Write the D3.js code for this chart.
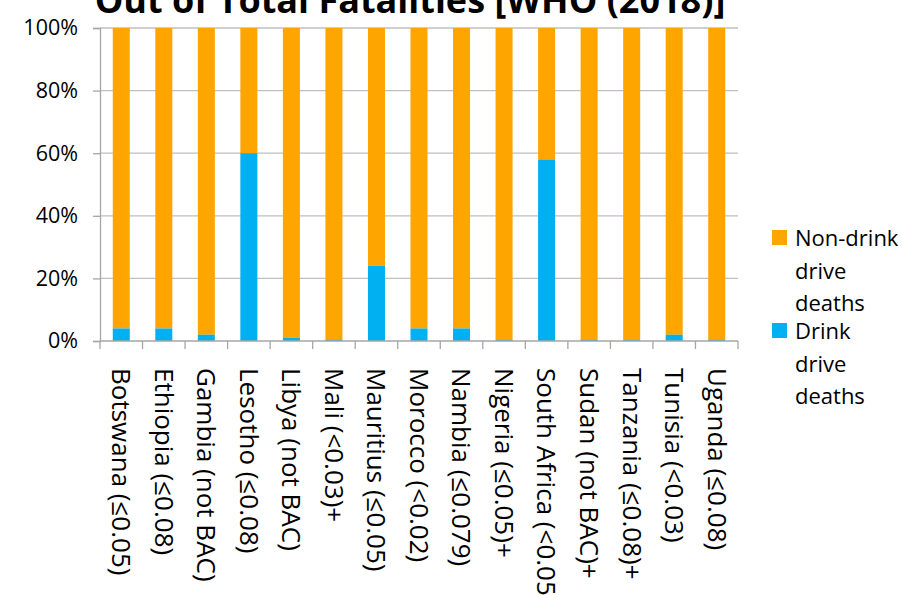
<!DOCTYPE html>
<html><head><meta charset="utf-8">
<script src="https://cdn.jsdelivr.net/npm/d3@7"></script>
<style>body{margin:0;background:#fff;} svg{display:block;}</style>
</head><body>
<svg id="c" width="902" height="595"></svg>
<script>
const categories = ["Botswana (≤0.05)","Ethiopia (≤0.08)","Gambia (not BAC)","Lesotho (≤0.08)","Libya (not BAC)","Mali (<0.03)+","Mauritius (≤0.05)","Morocco (<0.02)","Nambia (≤0.079)","Nigeria (≤0.05)+","South Africa (<0.05","Sudan (not BAC)+","Tanzania (≤0.08)+","Tunisia (<0.03)","Uganda (≤0.08)"];
const drinkDrive = [4, 4, 2, 60, 1, 0.5, 24, 4, 4, 0.5, 58, 0.5, 0.5, 2, 0.5];
const nonDrinkDrive = drinkDrive.map(v => 100 - v);
const yTicks = [0, 20, 40, 60, 80, 100];
const seriesNames = ["Non-drink drive deaths", "Drink drive deaths"];
const colors = {drink: "#00B0F0", non: "#FFA500"};
const title = "Out of Total Fatalities [WHO (2018)]";

(function () {
const font = "'Open Sans', 'Noto Sans', sans-serif";
const svg = d3.select("#c");
const mL = 100, mR = 738, mT = 28, mB = 341;
const x = d3.scaleBand().domain(categories).range([mL, mR]).paddingInner(0.6).paddingOuter(0.3);
const xb = d3.scaleBand().domain(categories).range([mL, mR]);
const y = d3.scaleLinear().domain([0, 100]).range([mB, mT]);

svg.append("text").attr("x", 410).attr("y", 13).attr("text-anchor", "middle")
  .attr("font-family", font).attr("font-weight", "bold").attr("font-size", 36).attr("fill", "#000").text(title);

// gridlines
svg.append("g").selectAll("line").data(yTicks.filter(d => d > 0)).join("line")
  .attr("x1", mL).attr("x2", mR).attr("y1", d => y(d)).attr("y2", d => y(d))
  .attr("stroke", "#BFBFBF").attr("stroke-width", 1.3);

// bars
const stack = categories.map((c, i) => ({c, d: drinkDrive[i], n: nonDrinkDrive[i]}));
const g = svg.append("g");
g.selectAll("rect.n").data(stack).join("rect").attr("class", "n")
  .attr("x", d => x(d.c)).attr("width", x.bandwidth())
  .attr("y", d => y(d.d + d.n)).attr("height", d => y(d.d) - y(d.d + d.n)).attr("fill", colors.non);
g.selectAll("rect.d").data(stack).join("rect").attr("class", "d")
  .attr("x", d => x(d.c)).attr("width", x.bandwidth())
  .attr("y", d => y(d.d)).attr("height", d => y(0) - y(d.d)).attr("fill", colors.drink);

// y axis
const yAxis = d3.axisLeft(y).tickValues(yTicks).tickFormat(d => d + "%").tickSize(7).tickPadding(15);
const ya = svg.append("g").attr("transform", `translate(${mL},0)`).call(yAxis);
ya.select(".domain").attr("stroke", "#A6A6A6").attr("stroke-width", 1.3);
ya.selectAll(".tick line").attr("stroke", "#A6A6A6").attr("stroke-width", 1.3);
ya.selectAll(".tick text").attr("font-family", font).attr("font-size", 21.5).attr("fill", "#000");

// x axis
svg.append("line").attr("x1", mL).attr("x2", mR).attr("y1", mB).attr("y2", mB)
  .attr("stroke", "#A6A6A6").attr("stroke-width", 1.3);
const bounds = categories.map(c => xb(c)).concat([mR]);
svg.append("g").selectAll("line").data(bounds).join("line")
  .attr("x1", d => d).attr("x2", d => d).attr("y1", mB).attr("y2", mB + 8)
  .attr("stroke", "#A6A6A6").attr("stroke-width", 1.3);
svg.append("g").selectAll("text").data(categories).join("text")
  .attr("transform", d => `translate(${xb(d) + xb.bandwidth() / 2},368) rotate(90)`)
  .attr("dy", "0.35em").attr("font-family", font).attr("font-size", 26).attr("fill", "#000")
  .text(d => d);

// legend
const legend = [
  {name: seriesNames[0], color: colors.non, y: 230},
  {name: seriesNames[1], color: colors.drink, y: 323}
];
const lg = svg.append("g");
legend.forEach(l => {
  lg.append("rect").attr("x", 772).attr("y", l.y).attr("width", 15).attr("height", 15).attr("fill", l.color);
  const words = l.name.split(" ");
  const t = lg.append("text").attr("font-family", font).attr("font-size", 22).attr("fill", "#000");
  words.forEach((w, i) => {
    t.append("tspan").attr("x", 795).attr("y", l.y + 16 + i * 32.5).text(w);
  });
});
})();
</script>
</body></html>
